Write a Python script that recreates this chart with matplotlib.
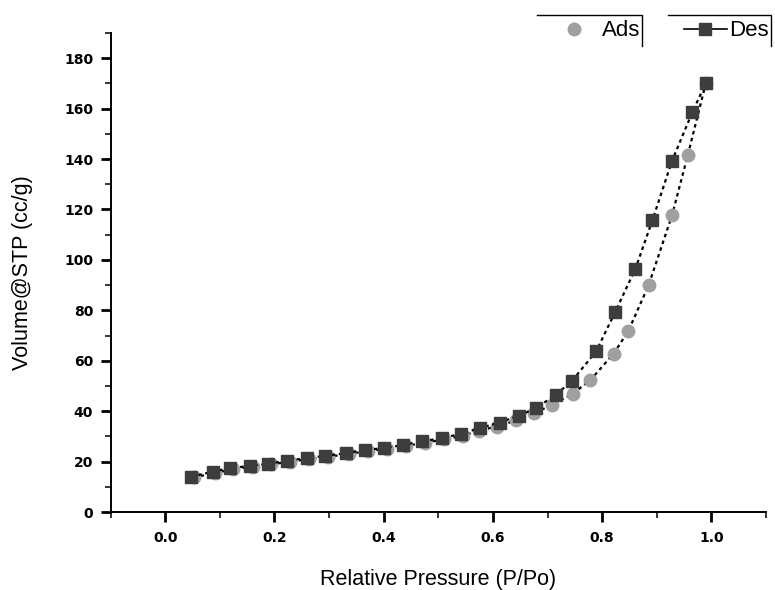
import matplotlib
matplotlib.use("Agg")
import matplotlib.pyplot as plt
from matplotlib.lines import Line2D
from matplotlib.ticker import MultipleLocator

# ---- data ----
ads_x = [0.052, 0.092, 0.124, 0.160, 0.194, 0.229, 0.264, 0.298, 0.336, 0.371,
         0.406, 0.441, 0.476, 0.511, 0.546, 0.575, 0.607, 0.642, 0.675, 0.709,
         0.746, 0.778, 0.821, 0.848, 0.885, 0.928, 0.957, 0.990]
ads_v = [13.7, 15.5, 17.0, 18.0, 18.9, 20.0, 21.0, 21.9, 23.0, 24.2,
         25.0, 26.2, 27.5, 28.8, 30.3, 32.3, 33.9, 36.3, 39.2, 42.5,
         46.9, 52.2, 62.8, 71.8, 89.9, 117.7, 141.7, 170.2]

des_x = [0.048, 0.087, 0.119, 0.156, 0.189, 0.224, 0.259, 0.293, 0.331, 0.366,
         0.401, 0.436, 0.471, 0.506, 0.542, 0.576, 0.613, 0.647, 0.679, 0.715,
         0.744, 0.789, 0.824, 0.861, 0.892, 0.928, 0.965, 0.990]
des_v = [14.0, 16.0, 17.4, 18.3, 19.1, 20.4, 21.3, 22.3, 23.3, 24.7,
         25.3, 26.6, 28.0, 29.3, 31.0, 33.3, 35.5, 38.2, 41.2, 46.5,
         51.8, 63.7, 79.4, 96.5, 115.7, 139.3, 158.5, 170.2]

x_ticks = [0.0, 0.2, 0.4, 0.6, 0.8, 1.0]
y_ticks = [0, 20, 40, 60, 80, 100, 120, 140, 160, 180]
series_labels = ["Ads", "Des"]

ads_color = "#a0a0a0"
des_color = "#3d3d3d"

W, H = 775, 590
fig = plt.figure(figsize=(W / 100, H / 100), dpi=100)
ax = fig.add_axes([110.5 / W, 1 - 512 / H, (766 - 110.5) / W, (512 - 33) / H])

dot = (0, (1.6, 1.6))
ax.plot(ads_x, ads_v, linestyle=dot, color="black", lw=1.6,
        marker="o", ms=9, mfc=ads_color, mec=ads_color, zorder=2)
ax.plot(des_x, des_v, linestyle=dot, color="black", lw=1.6,
        marker="s", ms=9, mfc=des_color, mec=des_color, zorder=3)

ax.set_xlim(-0.1, 1.1)
ax.set_ylim(0, 190)
ax.set_xticks(x_ticks)
ax.set_yticks(y_ticks)
ax.set_xticklabels([f"{t:.1f}" for t in x_ticks])
ax.set_yticklabels([str(t) for t in y_ticks])
ax.xaxis.set_minor_locator(MultipleLocator(0.1))
ax.yaxis.set_minor_locator(MultipleLocator(10))

for s in ["top", "right"]:
    ax.spines[s].set_visible(False)
for s in ["left", "bottom"]:
    ax.spines[s].set_linewidth(1.4)

ax.tick_params(which="major", direction="out", length=7.5, width=2.0)
ax.tick_params(axis="x", which="major", pad=6.5)
ax.tick_params(axis="y", which="major", pad=5)
ax.tick_params(which="minor", direction="out", length=4.5, width=1.1)
for lab in ax.get_xticklabels() + ax.get_yticklabels():
    lab.set_fontfamily("DejaVu Sans")
    lab.set_fontweight("bold")
    lab.set_fontsize(10)

ax.set_xlabel("Relative Pressure (P/Po)", family="Liberation Sans", fontsize=15.5, labelpad=17)
ax.set_ylabel("Volume@STP (cc/g)", family="Liberation Sans", fontsize=15.5, labelpad=22)

# ---- legends ----
h_ads = Line2D([], [], linestyle="none", marker="o", ms=9, mfc=ads_color, mec=ads_color)
h_des = Line2D([], [], linestyle="-", color="black", lw=1.2,
               marker="s", ms=9, mfc=des_color, mec=des_color)
leg_font = {"family": "Liberation Sans", "size": 16}
leg1 = ax.legend([h_ads], [series_labels[0]], loc="center right",
                 bbox_to_anchor=(640 / W, 1 - 31 / H), bbox_transform=fig.transFigure,
                 frameon=False, prop=leg_font, handlelength=1.5, handletextpad=0.5,
                 borderpad=0, borderaxespad=0)
ax.add_artist(leg1)
leg2 = ax.legend([h_des], [series_labels[1]], loc="center right",
                 bbox_to_anchor=(769 / W, 1 - 31 / H), bbox_transform=fig.transFigure,
                 frameon=False, prop=leg_font, handlelength=1.95, handletextpad=0.1,
                 borderpad=0, borderaxespad=0)
fig.add_artist(Line2D([537 / W, 642 / W, 642 / W], [1 - 15 / H, 1 - 15 / H, 1 - 46 / H],
                      transform=fig.transFigure, color="black", lw=1.0))
fig.add_artist(Line2D([668 / W, 771 / W, 771 / W], [1 - 15 / H, 1 - 15 / H, 1 - 46 / H],
                      transform=fig.transFigure, color="black", lw=1.0))

fig.savefig("out.png", dpi=100)
